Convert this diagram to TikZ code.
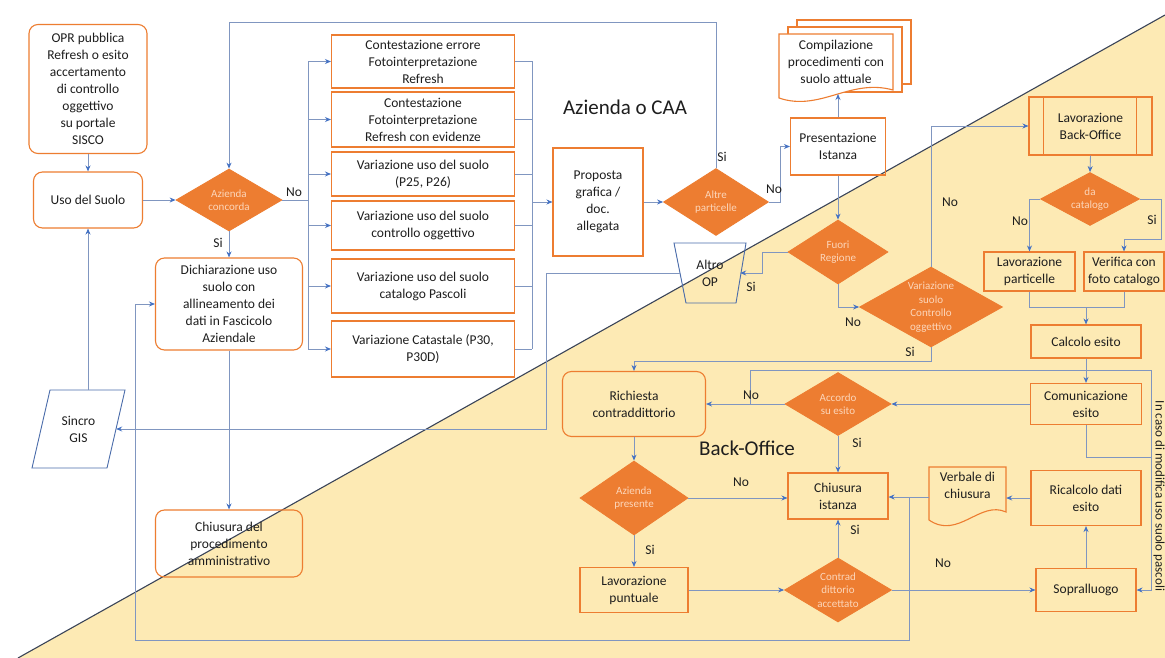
\documentclass[tikz,border=0pt]{standalone}
\usepackage{fontspec}
\setmainfont{Carlito}
\usetikzlibrary{shapes.geometric,arrows.meta,calc}
\definecolor{bgY}{RGB}{253,234,180}
\definecolor{orangeC}{RGB}{237,125,49}
\definecolor{lineC}{RGB}{128,150,192}
\definecolor{arrowC}{RGB}{68,114,196}
\definecolor{diagC}{RGB}{58,68,88}
\definecolor{txtC}{RGB}{30,30,30}
\definecolor{blueB}{RGB}{74,108,170}
\definecolor{dtxtC}{RGB}{252,214,186}
\begin{document}
\begin{tikzpicture}[x=1pt,y=-1pt,
  box/.style={rectangle, draw=orangeC, line width=1.1pt, align=center, text=txtC, font=\fontsize{13.5}{17}\selectfont, inner sep=1pt},
  rbox/.style={box, rounded corners=9pt},
  ghost/.style={rectangle, align=center, text=txtC, font=\fontsize{13.5}{17}\selectfont, inner sep=0pt},
  dia/.style={diamond, draw=orangeC, fill=orangeC, line width=0.8pt, inner sep=0pt},
  dtext/.style={text=dtxtC, align=center, font=\fontsize{11}{13.5}\selectfont, inner sep=0pt},
  conn/.style={draw=lineC, line width=0.9pt},
  arr/.style={conn, -{Stealth[length=6pt,width=5pt,color=arrowC]}},
  lbl/.style={text=txtC, font=\fontsize{13.5}{15}\selectfont, inner sep=0pt},
  ttl/.style={text=txtC, font=\fontsize{21}{25}\selectfont, inner sep=0pt},
  shapeB/.style={draw=blueB, line width=0.9pt},
  docS/.style={draw=orangeC, line width=1.1pt}
]
% background
\useasboundingbox (0,0) rectangle (1165,658);
\fill[white] (0,0) rectangle (1165,658);
\fill[bgY] (18,658) -- (1165,15) -- (1165,658) -- cycle;
\draw[diagC, line width=1.1pt] (18,658) -- (1165,15);

% titles
\node[ttl] (caa) at (625,107) {Azienda o CAA};
\node[ttl] (bo) at (747,448) {Back-Office};

% left part
\node[rbox, minimum width=118pt, minimum height=129pt] (opr) at (88,89) {OPR pubblica\\Refresh o esito\\accertamento\\di controllo\\oggettivo\\su portale\\SISCO};
\node[rbox, minimum width=109pt, minimum height=56pt] (uso) at (88,200) {Uso del Suolo};
\node[dia, minimum width=106pt, minimum height=62pt] (ac) at (229,200) {};
\node[dtext] (act) at (ac) {Azienda\\concorda};
\node[rbox, minimum width=147pt, minimum height=92pt] (dich) at (229,304) {Dichiarazione uso\\suolo con\\allineamento dei\\dati in Fascicolo\\Aziendale};
\node[rbox, minimum width=147pt, minimum height=67pt] (chp) at (229,543.5) {Chiusura del\\procedimento\\amministrativo};
\draw[shapeB] (50,390) -- (125,390) -- (107,468) -- (32,468) -- cycle;
\node[ghost, minimum width=75pt, minimum height=78pt] (sincro) at (78.5,429) {Sincro\\GIS};

% option boxes
\node[box, minimum width=183pt, minimum height=53pt] (b1) at (423,61.5) {Contestazione errore\\Fotointerpretazione\\Refresh};
\node[box, minimum width=183pt, minimum height=55pt] (b2) at (423,119.5) {Contestazione\\Fotointerpretazione\\Refresh con evidenze};
\node[box, minimum width=183pt, minimum height=44pt] (b3) at (423,174) {Variazione uso del suolo\\(P25, P26)};
\node[box, minimum width=183pt, minimum height=49pt] (b4) at (423,225.5) {Variazione uso del suolo\\controllo oggettivo};
\node[box, minimum width=183pt, minimum height=54pt] (b5) at (423,286) {Variazione uso del suolo\\catalogo Pascoli};
\node[box, minimum width=183pt, minimum height=56pt] (b6) at (423,349) {Variazione Catastale (P30,\\P30D)};

\node[box, minimum width=90pt, minimum height=108pt] (prop) at (598,202) {Proposta\\grafica /\\doc.\\allegata};
\node[dia, minimum width=105pt, minimum height=67pt] (ap) at (716,202) {};
\node[dtext] (apt) at (ap) {Altre\\particelle};

% top right of white area
\filldraw[docS, fill=white] (797,20) rectangle (911,84);
\filldraw[docS, fill=white] (788,27) rectangle (902,92);
\filldraw[docS, fill=white] (779,34) -- (893,34) -- (893,90) .. controls (850,78) and (820,112) .. (779,98) -- cycle;
\node[ghost] (comp) at (836,62) {Compilazione\\procedimenti con\\suolo attuale};
\coordinate (compb) at (838,94);
\node[box, minimum width=95pt, minimum height=57pt] (pres) at (838,146.5) {Presentazione\\Istanza};
\node[dia, minimum width=100pt, minimum height=64pt] (fr) at (838,252) {};
\node[dtext] (frt) at (fr) {Fuori\\Regione};
\draw[shapeB] (674,243) -- (746,243) -- (736,303) -- (686,303) -- cycle;
\node[ghost, minimum width=60pt, minimum height=60pt] (altro) at (710,273) {Altro\\OP};
\node[dia, minimum width=143pt, minimum height=80pt] (vs) at (931,307) {};
\node[dtext] (vst) at (vs) {Variazione\\suolo\\Controllo\\oggettivo};

% back-office column
\node[box, minimum width=123pt, minimum height=58pt] (lbo) at (1090.5,126) {Lavorazione\\Back-Office};
\draw[docS] ($(lbo.north west)+(15,0)$) -- ($(lbo.south west)+(15,0)$);
\draw[docS] ($(lbo.north east)+(-16,0)$) -- ($(lbo.south east)+(-16,0)$);
\node[dia, minimum width=99pt, minimum height=53pt] (dc) at (1090,199) {};
\node[dtext] (dct) at (dc) {da\\catalogo};
\node[box, minimum width=91pt, minimum height=39pt] (lp) at (1029.5,271.5) {Lavorazione\\particelle};
\node[box, minimum width=80pt, minimum height=39pt] (vf) at (1124,271.5) {Verifica con\\foto catalogo};
\node[box, minimum width=110pt, minimum height=33pt] (ce) at (1086,341.5) {Calcolo esito};
\node[box, minimum width=111pt, minimum height=41pt] (com) at (1086,404) {Comunicazione\\esito};
\node[box, minimum width=110pt, minimum height=55pt] (rc) at (1086,498) {Ricalcolo dati\\esito};
\node[box, minimum width=100pt, minimum height=43pt] (sop) at (1086,590) {Sopralluogo};
\node[ghost, minimum width=77pt, minimum height=60pt] (verb) at (967.5,497) {};
\draw[docS] (929,467) -- (1006,467) -- (1006,512) .. controls (980,500) and (958,540) .. (929,520) -- cycle;
\node[ghost] (verbt) at (967.5,485) {Verbale di\\chiusura};

% lower back-office
\node[dia, minimum width=106pt, minimum height=63pt] (acc) at (838,404) {};
\node[dtext] (acct) at (acc) {Accordo\\su esito};
\node[rbox, minimum width=143pt, minimum height=65pt] (ric) at (634,404) {Richiesta\\contraddittorio};
\node[dia, minimum width=108pt, minimum height=74pt] (azp) at (634,498) {};
\node[dtext] (azpt) at (azp) {Azienda\\presente};
\node[box, minimum width=100pt, minimum height=46pt] (ci) at (838,496) {Chiusura\\istanza};
\node[box, minimum width=108pt, minimum height=45pt] (lpu) at (634,590) {Lavorazione\\puntuale};
\node[dia, minimum width=107pt, minimum height=64pt] (ca) at (838,590) {};
\node[dtext] (cat) at (ca) {Contrad\\dittorio\\accettato};
\node[lbl, rotate=-90, font=\fontsize{13}{15}\selectfont] (note) at (1159,496) {In caso di modifica uso suolo pascoli};

% connectors
\coordinate (busL) at (308,200);
\coordinate (busR) at (532,202);
\draw[arr] (opr.south) -- (uso.north);
\draw[arr] (sincro.north -| uso.south) -- (uso.south);
\draw[arr] (uso.east) -- (ac.west);
\draw[conn] (ac.east) -- (busL);
\draw[conn] (b1.west -| busL) -- (b6.west -| busL);
\draw[conn] (b1.east -| busR) -- (b6.east -| busR);
\foreach \b in {b1,b2,b3,b4,b5,b6} {
  \draw[arr] (\b.west -| busL) -- (\b.west);
  \draw[conn] (\b.east) -- (\b.east -| busR);
}
\draw[arr] (busR) -- (prop.west);
\draw[arr] (prop.east) -- (ap.west);
\draw[arr] (ap.north) -- (ap.north |- 0,22) -- (ac.north |- 0,22) -- (ac.north);
\draw[arr] (ap.east) -- ++(12,0) |- (pres.west);
\draw[arr] (pres.north) -- (compb);
\draw[arr] (pres.south) -- (fr.north);
\draw[arr] (fr.west) -- ++(-25,0) |- (altro.east);
\draw[arr] (altro.west) -| (546,429) -- (sincro.east);
\draw[arr] (fr.south) |- (vs.west);
\draw[arr] (vs.north) |- (lbo.west);
\draw[arr] (vs.south) -- ++(0,14) -| (ric.north);
\draw[arr] (ac.south) -- (dich.north);
\draw[arr] (dich.south) -- (chp.north);
\draw[arr] (lbo.south) -- (dc.north);
\draw[arr] (dc.west) -| (lp.north);
\draw[arr] (dc.east) -- (1161,199) -- (1161,239) -| (vf.north);
\draw[conn] (lp.south) -- ++(0,16) -| (vf.south);
\draw[arr] (ce.north |- 0,307) -- (ce.north);
\draw[arr] (ce.south) -- (com.north);
\draw[arr] (com.west) -- (acc.east);
\draw[arr] (acc.west) -- (ric.east);
\draw[arr] (750,404) -- (750,370) -- (1151,370) |- (sop.east);
\draw[conn] (com.south) |- (1151,457);
\draw[arr] (acc.south) -- (ci.north);
\draw[arr] (ric.south) -- (azp.north);
\draw[arr] (azp.east) -- (azp.east -| ci.west);
\draw[arr] (azp.south) -- (lpu.north);
\draw[arr] (lpu.east) -- (ca.west);
\draw[arr] (ca.north) -- (ci.south);
\draw[arr] (ca.east) -- (sop.west);
\draw[arr] (sop.north) -- (rc.south);
\draw[arr] (rc.west) -- (rc.west -| verb.east);
\draw[arr] (verb.west) -- (verb.west -| ci.east);
\coordinate (lj) at (909,497);
\draw[arr] (lj) -- (909,640) -- (135,640) |- (dich.west);

% labels
\node[lbl] (l1) at (294,192) {No};
\node[lbl] (l2) at (218,243) {Si};
\node[lbl] (l3) at (722,157) {Si};
\node[lbl] (l4) at (774,189) {No};
\node[lbl] (l5) at (751,287) {Si};
\node[lbl] (l6) at (853,322) {No};
\node[lbl] (l7) at (950,202) {No};
\node[lbl] (l8) at (910,352) {Si};
\node[lbl] (l9) at (1020,221) {No};
\node[lbl] (l10) at (1152,220) {Si};
\node[lbl] (l11) at (751,395) {No};
\node[lbl] (l12) at (857,443) {Si};
\node[lbl] (l13) at (741,482) {No};
\node[lbl] (l14) at (650,550) {Si};
\node[lbl] (l15) at (855,530) {Si};
\node[lbl] (l16) at (943,563) {No};
\end{tikzpicture}
\end{document}
